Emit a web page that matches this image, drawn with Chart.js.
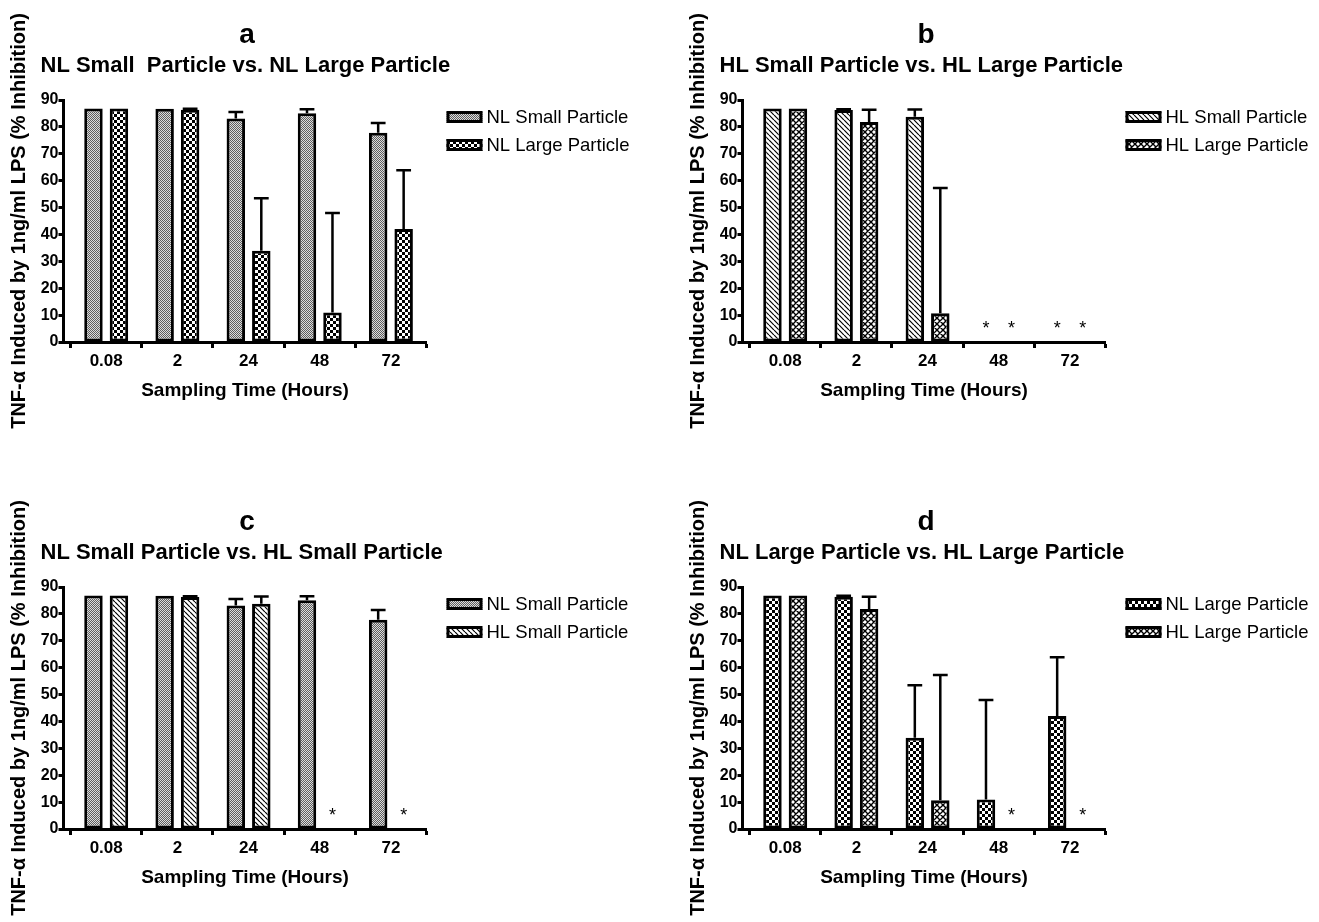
<!DOCTYPE html>
<html>
<head>
<meta charset="utf-8">
<script src="https://cdn.jsdelivr.net/npm/chart.js@4.4.1/dist/chart.umd.min.js"></script>
<style>
  html, body { margin: 0; padding: 0; background: #fff; overflow: hidden; width: 1319px; height: 922px; }
  .panel { position: absolute; }
  canvas { display: block; }
</style>
</head>
<body>
<div class="panel" style="left:0px;top:0px"><canvas id="pa" width="679" height="487"></canvas></div>
<div class="panel" style="left:679px;top:0px"><canvas id="pb" width="640" height="487"></canvas></div>
<div class="panel" style="left:0px;top:487px"><canvas id="pc" width="679" height="435"></canvas></div>
<div class="panel" style="left:679px;top:487px"><canvas id="pd" width="640" height="435"></canvas></div>
<script>
// ---------------- data ----------------
const times = ['0.08', '2', '24', '48', '72'];          // sampling time (hours)
const nlSmallMean = [86.8, 86.7, 83.1, 85.1, 77.8];
const nlSmallErr  = [0, 0, 2.4, 1.5, 3.6];
const nlLargeMean = [86.8, 86.4, 33.9, 11.0, 42.0];
const nlLargeErr  = [0, 0.3, 19.6, 37.0, 21.9];
const hlSmallMean = [86.8, 86.3, 83.8, 0, 0];
const hlSmallErr  = [0, 0.3, 2.7, 0, 0];
const hlLargeMean = [86.8, 81.8, 10.7, 0, 0];
const hlLargeErr  = [0, 4.6, 46.6, 0, 0];
const nlStar = [false, false, false, false, false];
const hlStar = [false, false, false, true, true];        // "*" markers
const yMin = 0, yMax = 90, yStep = 10;
const starLevel = 3;                                     // asterisk baseline (data units)
const panelLetters = ['a', 'b', 'c', 'd'];
const panelTitles = [
  'NL Small  Particle vs. NL Large Particle',
  'HL Small Particle vs. HL Large Particle',
  'NL Small Particle vs. HL Small Particle',
  'NL Large Particle vs. HL Large Particle'
];
const yTitle = 'TNF-\u03B1 Induced by 1ng/ml LPS (% Inhibition)';
const xTitle = 'Sampling Time (Hours)';

// ---------------- patterns ----------------
function tile(n, draw) {
  const c = document.createElement('canvas');
  c.width = n; c.height = n;
  const g = c.getContext('2d');
  g.fillStyle = '#fff'; g.fillRect(0, 0, n, n);
  draw(g, n);
  return g.createPattern(c, 'repeat');
}
const fillNLSmall = tile(2, (g) => {
  g.fillStyle = '#dcdcdc'; g.fillRect(0, 0, 2, 2);
  g.fillStyle = '#5e5e5e'; g.fillRect(0, 0, 1, 1); g.fillRect(1, 1, 1, 1);
});
const fillNLLarge = tile(6, (g) => {
  g.fillStyle = '#000'; g.fillRect(0, 0, 3, 3); g.fillRect(3, 3, 3, 3);
});
const fillHLSmall = tile(5, (g, n) => {
  g.strokeStyle = '#000'; g.lineWidth = 1.2; g.beginPath();
  for (const k of [-n, 0, n]) { g.moveTo(k, 0); g.lineTo(k + n, n); }
  g.stroke();
});
const fillHLLarge = tile(6, (g, n) => {
  g.strokeStyle = '#000'; g.lineWidth = 1.4; g.beginPath();
  for (const k of [-n, 0, n]) { g.moveTo(k, 0); g.lineTo(k + n, n); g.moveTo(k, n); g.lineTo(k + n, 0); }
  g.stroke();
});

const series = {
  nlSmall: { label: 'NL Small Particle', mean: nlSmallMean, err: nlSmallErr, star: nlStar, fill: fillNLSmall },
  nlLarge: { label: 'NL Large Particle', mean: nlLargeMean, err: nlLargeErr, star: nlStar, fill: fillNLLarge },
  hlSmall: { label: 'HL Small Particle', mean: hlSmallMean, err: hlSmallErr, star: hlStar, fill: fillHLSmall },
  hlLarge: { label: 'HL Large Particle', mean: hlLargeMean, err: hlLargeErr, star: hlStar, fill: fillHLLarge }
};

const FONT = '"Liberation Sans", Arial, Helvetica, sans-serif';
Chart.defaults.font.family = FONT;
Chart.defaults.color = '#000';

// ---------------- plugins ----------------
const errorBars = {
  id: 'errorBars',
  afterDatasetsDraw(chart) {
    const ctx = chart.ctx, y = chart.scales.y;
    chart.data.datasets.forEach((ds, di) => {
      const meta = chart.getDatasetMeta(di);
      meta.data.forEach((bar, i) => {
        const e = ds.errors[i];
        if (e > 0) {
          const top = y.getPixelForValue(ds.data[i].y + e);
          const half = bar.width * 0.4;
          ctx.save();
          ctx.strokeStyle = '#000'; ctx.lineWidth = 2.5;
          ctx.beginPath();
          ctx.moveTo(bar.x, bar.y); ctx.lineTo(bar.x, top);
          ctx.moveTo(bar.x - half, top); ctx.lineTo(bar.x + half, top);
          ctx.stroke();
          ctx.restore();
        }
        if (ds.stars[i]) {
          ctx.save();
          ctx.fillStyle = '#000'; ctx.font = '18px ' + FONT;
          ctx.textAlign = 'center'; ctx.textBaseline = 'alphabetic';
          ctx.fillText('*', bar.x, y.getPixelForValue(starLevel));
          ctx.restore();
        }
      });
    });
  }
};

const headings = {
  id: 'headings',
  afterDraw(chart, args, opts) {
    const ctx = chart.ctx, a = chart.chartArea;
    ctx.save();
    ctx.fillStyle = '#000';
    ctx.textBaseline = 'alphabetic';
    ctx.font = 'bold 28px ' + FONT; ctx.textAlign = 'center';
    ctx.fillText(opts.letter, (a.left + a.right) / 2 + 2, 42.5);
    ctx.font = 'bold 22px ' + FONT; ctx.textAlign = 'left';
    ctx.fillText(opts.text, a.left - 23, 71.5);
    ctx.restore();
  }
};

const sideLegend = {
  id: 'sideLegend',
  afterDraw(chart) {
    const ctx = chart.ctx, a = chart.chartArea;
    chart.data.datasets.forEach((ds, i) => {
      const bx = a.right + 20, cy = a.top + 17 + i * 28;
      ctx.save();
      ctx.fillStyle = ds.backgroundColor;
      ctx.fillRect(bx, cy - 6, 36, 12);
      ctx.strokeStyle = '#000'; ctx.lineWidth = 3;
      ctx.strokeRect(bx + 1.5, cy - 4.5, 33, 9);
      ctx.fillStyle = '#000'; ctx.font = '18.5px ' + FONT;
      ctx.textAlign = 'left'; ctx.textBaseline = 'middle';
      ctx.fillText(ds.label, bx + 40, cy + 1);
      ctx.restore();
    });
  }
};

// ---------------- builder ----------------
function makePanel(id, idx, list) {
  const canvas = document.getElementById(id);
  const W = canvas.width, H = canvas.height;
  const datasets = list.map(s => ({
    label: s.label,
    data: s.mean.map((v, i) => ({ x: i, y: v })),
    errors: s.err,
    stars: s.star,
    backgroundColor: s.fill,
    borderColor: '#000',
    borderWidth: 3,
    borderSkipped: false,
    categoryPercentage: 0.716,
    barPercentage: 0.725
  }));
  new Chart(canvas, {
    type: 'bar',
    data: { datasets },
    plugins: [errorBars, headings, sideLegend],
    options: {
      responsive: false,
      animation: false,
      devicePixelRatio: 1,
      layout: { padding: { top: 100, left: 0, right: W - 426.5, bottom: H - 342 - 64 } },
      plugins: {
        legend: { display: false },
        tooltip: { enabled: false },
        headings: { letter: panelLetters[idx], text: panelTitles[idx] }
      },
      scales: {
        x: {
          type: 'linear',
          min: -0.6, max: 4.5,
          offset: false,
          afterFit: s => { s.height = 64; },
          ticks: {
            stepSize: 1, includeBounds: false, autoSkip: false, maxRotation: 0,
            padding: 3, color: '#000',
            font: { size: 17, weight: 'bold' },
            callback: v => Number.isInteger(v) ? times[v] : ''
          },
          grid: { display: true, drawOnChartArea: false, drawTicks: true, tickLength: 6, tickWidth: 3, color: '#000' },
          border: { display: true, width: 3, color: '#000' },
          title: { display: true, text: xTitle, color: '#000', font: { size: 19, weight: 'bold' }, padding: { top: 0, bottom: 4 } }
        },
        y: {
          min: yMin, max: yMax,
          afterFit: s => { s.width = 63.5; },
          ticks: { stepSize: yStep, padding: 0, color: '#000', font: { size: 16, weight: 'bold' } },
          grid: { display: true, drawOnChartArea: false, drawTicks: true, tickLength: 5, tickWidth: 3, color: '#000' },
          border: { display: true, width: 3, color: '#000' },
          title: { display: true, text: yTitle, color: '#000', font: { size: 20, weight: 'bold' }, padding: { top: 7, bottom: 0 } }
        }
      }
    }
  });
}

makePanel('pa', 0, [series.nlSmall, series.nlLarge]);
makePanel('pb', 1, [series.hlSmall, series.hlLarge]);
makePanel('pc', 2, [series.nlSmall, series.hlSmall]);
makePanel('pd', 3, [series.nlLarge, series.hlLarge]);
</script>
</body>
</html>
